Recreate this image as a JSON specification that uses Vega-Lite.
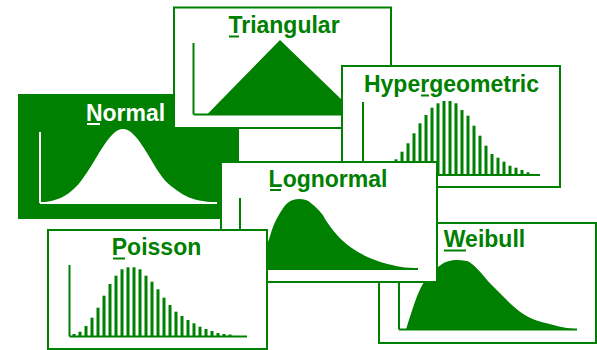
{
"$schema":"https://vega.github.io/schema/vega-lite/v6.json",
"width":597,"height":350,"padding":0,
"autosize":{"type":"fit","contains":"padding"},
"background":"white",
"config":{"view":{"stroke":null}},
"data":{"values":[
{"c":"N","k":"box","x":19,"x2":238,"y":95,"y2":218},
{"c":"N","k":"title","x":125.5,"y":120.5,"t":"Normal"},
{"c":"N","k":"line","x":40,"x2":40,"y":132,"y2":203},
{"c":"N","k":"line","x":40,"x2":217,"y":203,"y2":203},
{"c":"N","k":"line","x":87,"x2":100,"y":124,"y2":124},
{"c":"N","k":"pt","x":43,"y":202.3,"y2":203},
{"c":"N","k":"pt","x":51,"y":200.9,"y2":203},
{"c":"N","k":"pt","x":57,"y":199.3,"y2":203},
{"c":"N","k":"pt","x":63,"y":196.7,"y2":203},
{"c":"N","k":"pt","x":69,"y":193,"y2":203},
{"c":"N","k":"pt","x":75,"y":187.8,"y2":203},
{"c":"N","k":"pt","x":81,"y":180.9,"y2":203},
{"c":"N","k":"pt","x":87,"y":172.6,"y2":203},
{"c":"N","k":"pt","x":93,"y":163.1,"y2":203},
{"c":"N","k":"pt","x":99,"y":153.1,"y2":203},
{"c":"N","k":"pt","x":105,"y":143.7,"y2":203},
{"c":"N","k":"pt","x":111,"y":136,"y2":203},
{"c":"N","k":"pt","x":117,"y":130.8,"y2":203},
{"c":"N","k":"pt","x":123,"y":129,"y2":203},
{"c":"N","k":"pt","x":129,"y":130.8,"y2":203},
{"c":"N","k":"pt","x":135,"y":136,"y2":203},
{"c":"N","k":"pt","x":141,"y":143.7,"y2":203},
{"c":"N","k":"pt","x":147,"y":153.1,"y2":203},
{"c":"N","k":"pt","x":153,"y":163.1,"y2":203},
{"c":"N","k":"pt","x":159,"y":172.6,"y2":203},
{"c":"N","k":"pt","x":165,"y":180.5,"y2":203},
{"c":"N","k":"pt","x":171,"y":186,"y2":203},
{"c":"N","k":"pt","x":177,"y":190.5,"y2":203},
{"c":"N","k":"pt","x":183,"y":194.5,"y2":203},
{"c":"N","k":"pt","x":189,"y":197.5,"y2":203},
{"c":"N","k":"pt","x":195,"y":199.5,"y2":203},
{"c":"N","k":"pt","x":201,"y":200.8,"y2":203},
{"c":"N","k":"pt","x":207,"y":201.7,"y2":203},
{"c":"N","k":"pt","x":215,"y":202.3,"y2":203},

{"c":"T","k":"box","x":174,"x2":391,"y":7.5,"y2":128},
{"c":"T","k":"title","x":284,"y":33,"t":"Triangular"},
{"c":"T","k":"line","x":193.5,"x2":193.5,"y":43,"y2":114.5},
{"c":"T","k":"line","x":193.5,"x2":375,"y":114.5,"y2":114.5},
{"c":"T","k":"line","x":229,"x2":239,"y":36.5,"y2":36.5},
{"c":"T","k":"pt","x":207,"y":114.5,"y2":114.5},
{"c":"T","k":"pt","x":280,"y":40,"y2":114.5},
{"c":"T","k":"pt","x":357,"y":114.5,"y2":114.5},

{"c":"H","k":"box","x":342,"x2":560,"y":66,"y2":187},
{"c":"H","k":"title","x":451.5,"y":92,"t":"Hypergeometric"},
{"c":"H","k":"line","x":363,"x2":363,"y":102,"y2":175},
{"c":"H","k":"line","x":363,"x2":540,"y":175,"y2":175},
{"c":"H","k":"line","x":421,"x2":429,"y":95.5,"y2":95.5},
{"c":"H","k":"bar","x":378,"y":172,"y2":175},
{"c":"H","k":"bar","x":384,"y":170,"y2":175},
{"c":"H","k":"bar","x":390,"y":166,"y2":175},
{"c":"H","k":"bar","x":396,"y":159.3,"y2":175},
{"c":"H","k":"bar","x":402,"y":151.7,"y2":175},
{"c":"H","k":"bar","x":408,"y":143.3,"y2":175},
{"c":"H","k":"bar","x":414,"y":133.3,"y2":175},
{"c":"H","k":"bar","x":420,"y":123.3,"y2":175},
{"c":"H","k":"bar","x":426,"y":115,"y2":175},
{"c":"H","k":"bar","x":432,"y":107.7,"y2":175},
{"c":"H","k":"bar","x":438,"y":103.3,"y2":175},
{"c":"H","k":"bar","x":444,"y":101,"y2":175},
{"c":"H","k":"bar","x":450,"y":101,"y2":175},
{"c":"H","k":"bar","x":456,"y":103.3,"y2":175},
{"c":"H","k":"bar","x":462,"y":110,"y2":175},
{"c":"H","k":"bar","x":468,"y":115.7,"y2":175},
{"c":"H","k":"bar","x":474,"y":125.7,"y2":175},
{"c":"H","k":"bar","x":480,"y":135.7,"y2":175},
{"c":"H","k":"bar","x":486,"y":145.7,"y2":175},
{"c":"H","k":"bar","x":492,"y":154,"y2":175},
{"c":"H","k":"bar","x":498,"y":157.7,"y2":175},
{"c":"H","k":"bar","x":504,"y":161.7,"y2":175},
{"c":"H","k":"bar","x":510,"y":165.7,"y2":175},
{"c":"H","k":"bar","x":516,"y":167.7,"y2":175},
{"c":"H","k":"bar","x":522,"y":170,"y2":175},
{"c":"H","k":"bar","x":528,"y":172.3,"y2":175},

{"c":"W","k":"box","x":379,"x2":596,"y":223,"y2":343},
{"c":"W","k":"title","x":484.5,"y":247,"t":"Weibull"},
{"c":"W","k":"line","x":399,"x2":399,"y":258,"y2":329.5},
{"c":"W","k":"line","x":399,"x2":577,"y":329.5,"y2":329.5},
{"c":"W","k":"line","x":444,"x2":466,"y":250.5,"y2":250.5},
{"c":"W","k":"pt","x":406,"y":329.5,"y2":329.5},
{"c":"W","k":"pt","x":410,"y":316.7,"y2":329.5},
{"c":"W","k":"pt","x":413.3,"y":306.7,"y2":329.5},
{"c":"W","k":"pt","x":418.3,"y":293.3,"y2":329.5},
{"c":"W","k":"pt","x":423.3,"y":283.3,"y2":329.5},
{"c":"W","k":"pt","x":430,"y":275,"y2":329.5},
{"c":"W","k":"pt","x":438.3,"y":266.7,"y2":329.5},
{"c":"W","k":"pt","x":446.7,"y":261.7,"y2":329.5},
{"c":"W","k":"pt","x":456.7,"y":260,"y2":329.5},
{"c":"W","k":"pt","x":466.7,"y":261,"y2":329.5},
{"c":"W","k":"pt","x":473.3,"y":265,"y2":329.5},
{"c":"W","k":"pt","x":480,"y":271.7,"y2":329.5},
{"c":"W","k":"pt","x":490,"y":283.3,"y2":329.5},
{"c":"W","k":"pt","x":500,"y":293.3,"y2":329.5},
{"c":"W","k":"pt","x":510,"y":303.3,"y2":329.5},
{"c":"W","k":"pt","x":520,"y":311.7,"y2":329.5},
{"c":"W","k":"pt","x":533.3,"y":319.3,"y2":329.5},
{"c":"W","k":"pt","x":546.7,"y":323.3,"y2":329.5},
{"c":"W","k":"pt","x":560,"y":326.7,"y2":329.5},
{"c":"W","k":"pt","x":576.7,"y":329.3,"y2":329.5},

{"c":"L","k":"box","x":221,"x2":437,"y":162,"y2":282},
{"c":"L","k":"title","x":328,"y":186.5,"t":"Lognormal"},
{"c":"L","k":"line","x":240,"x2":240,"y":198,"y2":269},
{"c":"L","k":"line","x":240,"x2":418,"y":269,"y2":269},
{"c":"L","k":"line","x":270,"x2":281,"y":190,"y2":190},
{"c":"L","k":"pt","x":244,"y":268,"y2":269},
{"c":"L","k":"pt","x":250,"y":266,"y2":269},
{"c":"L","k":"pt","x":256,"y":261,"y2":269},
{"c":"L","k":"pt","x":262,"y":253,"y2":269},
{"c":"L","k":"pt","x":268,"y":242,"y2":269},
{"c":"L","k":"pt","x":273,"y":227,"y2":269},
{"c":"L","k":"pt","x":280,"y":213,"y2":269},
{"c":"L","k":"pt","x":287,"y":203.5,"y2":269},
{"c":"L","k":"pt","x":293,"y":200,"y2":269},
{"c":"L","k":"pt","x":299,"y":199,"y2":269},
{"c":"L","k":"pt","x":306,"y":200,"y2":269},
{"c":"L","k":"pt","x":312,"y":204,"y2":269},
{"c":"L","k":"pt","x":317,"y":208.5,"y2":269},
{"c":"L","k":"pt","x":322,"y":214,"y2":269},
{"c":"L","k":"pt","x":327,"y":222,"y2":269},
{"c":"L","k":"pt","x":332,"y":229,"y2":269},
{"c":"L","k":"pt","x":337,"y":235,"y2":269},
{"c":"L","k":"pt","x":343,"y":241,"y2":269},
{"c":"L","k":"pt","x":350,"y":246.7,"y2":269},
{"c":"L","k":"pt","x":358,"y":252,"y2":269},
{"c":"L","k":"pt","x":367,"y":256.7,"y2":269},
{"c":"L","k":"pt","x":375,"y":260,"y2":269},
{"c":"L","k":"pt","x":383,"y":262.7,"y2":269},
{"c":"L","k":"pt","x":392,"y":265,"y2":269},
{"c":"L","k":"pt","x":400,"y":266.7,"y2":269},
{"c":"L","k":"pt","x":410,"y":267.8,"y2":269},
{"c":"L","k":"pt","x":418,"y":268.5,"y2":269},

{"c":"P","k":"box","x":48,"x2":267,"y":230,"y2":349},
{"c":"P","k":"title","x":156.5,"y":255,"t":"Poisson"},
{"c":"P","k":"line","x":69.5,"x2":69.5,"y":265,"y2":336.5},
{"c":"P","k":"line","x":69.5,"x2":247,"y":336.5,"y2":336.5},
{"c":"P","k":"line","x":113,"x2":125,"y":258.5,"y2":258.5},
{"c":"P","k":"bar","x":74,"y":334,"y2":336.5},
{"c":"P","k":"bar","x":80,"y":331.7,"y2":336.5},
{"c":"P","k":"bar","x":86,"y":326,"y2":336.5},
{"c":"P","k":"bar","x":92,"y":317.7,"y2":336.5},
{"c":"P","k":"bar","x":98,"y":307.7,"y2":336.5},
{"c":"P","k":"bar","x":104,"y":295.7,"y2":336.5},
{"c":"P","k":"bar","x":110,"y":284,"y2":336.5},
{"c":"P","k":"bar","x":116,"y":275.7,"y2":336.5},
{"c":"P","k":"bar","x":122,"y":269.3,"y2":336.5},
{"c":"P","k":"bar","x":128,"y":267.3,"y2":336.5},
{"c":"P","k":"bar","x":134,"y":267.3,"y2":336.5},
{"c":"P","k":"bar","x":140,"y":269.3,"y2":336.5},
{"c":"P","k":"bar","x":146,"y":275.7,"y2":336.5},
{"c":"P","k":"bar","x":152,"y":281.7,"y2":336.5},
{"c":"P","k":"bar","x":158,"y":289.3,"y2":336.5},
{"c":"P","k":"bar","x":164,"y":297.7,"y2":336.5},
{"c":"P","k":"bar","x":170,"y":305,"y2":336.5},
{"c":"P","k":"bar","x":176,"y":311.7,"y2":336.5},
{"c":"P","k":"bar","x":182,"y":316,"y2":336.5},
{"c":"P","k":"bar","x":188,"y":320,"y2":336.5},
{"c":"P","k":"bar","x":194,"y":323.3,"y2":336.5},
{"c":"P","k":"bar","x":200,"y":326.7,"y2":336.5},
{"c":"P","k":"bar","x":206,"y":329,"y2":336.5},
{"c":"P","k":"bar","x":212,"y":331,"y2":336.5},
{"c":"P","k":"bar","x":218,"y":333,"y2":336.5},
{"c":"P","k":"bar","x":224,"y":334,"y2":336.5},
{"c":"P","k":"bar","x":230,"y":334.5,"y2":336.5}
]},
"encoding":{
"x":{"field":"x","type":"quantitative","scale":{"domain":[0,597],"nice":false,"zero":false},"axis":null},
"y":{"field":"y","type":"quantitative","scale":{"domain":[0,350],"reverse":true,"nice":false,"zero":false},"axis":null}
},
"layer":[
{"transform":[{"filter":"datum.c==='N'"}],"layer":[
 {"transform":[{"filter":"datum.k==='box'"}],"mark":{"type":"rect","fill":"#008000","stroke":"#008000","strokeWidth":2},"encoding":{"x2":{"field":"x2"},"y2":{"field":"y2"}}},
 {"transform":[{"filter":"datum.k==='pt'"}],"mark":{"type":"area","color":"white","interpolate":"monotone"},"encoding":{"y2":{"field":"y2"}}},
 {"transform":[{"filter":"datum.k==='line'"}],"mark":{"type":"rule","color":"white","strokeWidth":2},"encoding":{"x2":{"field":"x2"},"y2":{"field":"y2"}}},
 {"transform":[{"filter":"datum.k==='title'"}],"mark":{"type":"text","color":"white","font":"Liberation Sans","fontWeight":"bold","fontSize":23,"align":"center","baseline":"alphabetic"},"encoding":{"text":{"field":"t"}}}
]},
{"transform":[{"filter":"datum.c==='T'"}],"layer":[
 {"transform":[{"filter":"datum.k==='box'"}],"mark":{"type":"rect","fill":"white","stroke":"#008000","strokeWidth":2},"encoding":{"x2":{"field":"x2"},"y2":{"field":"y2"}}},
 {"transform":[{"filter":"datum.k==='pt'"}],"mark":{"type":"area","color":"#008000","interpolate":"linear"},"encoding":{"y2":{"field":"y2"}}},
 {"transform":[{"filter":"datum.k==='line'"}],"mark":{"type":"rule","color":"#008000","strokeWidth":2},"encoding":{"x2":{"field":"x2"},"y2":{"field":"y2"}}},
 {"transform":[{"filter":"datum.k==='title'"}],"mark":{"type":"text","color":"#008000","font":"Liberation Sans","fontWeight":"bold","fontSize":23,"align":"center","baseline":"alphabetic"},"encoding":{"text":{"field":"t"}}}
]},
{"transform":[{"filter":"datum.c==='H'"}],"layer":[
 {"transform":[{"filter":"datum.k==='box'"}],"mark":{"type":"rect","fill":"white","stroke":"#008000","strokeWidth":2},"encoding":{"x2":{"field":"x2"},"y2":{"field":"y2"}}},
 {"transform":[{"filter":"datum.k==='bar'"}],"mark":{"type":"rule","color":"#008000","strokeWidth":3},"encoding":{"y2":{"field":"y2"}}},
 {"transform":[{"filter":"datum.k==='line'"}],"mark":{"type":"rule","color":"#008000","strokeWidth":2},"encoding":{"x2":{"field":"x2"},"y2":{"field":"y2"}}},
 {"transform":[{"filter":"datum.k==='title'"}],"mark":{"type":"text","color":"#008000","font":"Liberation Sans","fontWeight":"bold","fontSize":23,"align":"center","baseline":"alphabetic"},"encoding":{"text":{"field":"t"}}}
]},
{"transform":[{"filter":"datum.c==='W'"}],"layer":[
 {"transform":[{"filter":"datum.k==='box'"}],"mark":{"type":"rect","fill":"white","stroke":"#008000","strokeWidth":2},"encoding":{"x2":{"field":"x2"},"y2":{"field":"y2"}}},
 {"transform":[{"filter":"datum.k==='pt'"}],"mark":{"type":"area","color":"#008000","interpolate":"monotone"},"encoding":{"y2":{"field":"y2"}}},
 {"transform":[{"filter":"datum.k==='line'"}],"mark":{"type":"rule","color":"#008000","strokeWidth":2},"encoding":{"x2":{"field":"x2"},"y2":{"field":"y2"}}},
 {"transform":[{"filter":"datum.k==='title'"}],"mark":{"type":"text","color":"#008000","font":"Liberation Sans","fontWeight":"bold","fontSize":23,"align":"center","baseline":"alphabetic"},"encoding":{"text":{"field":"t"}}}
]},
{"transform":[{"filter":"datum.c==='L'"}],"layer":[
 {"transform":[{"filter":"datum.k==='box'"}],"mark":{"type":"rect","fill":"white","stroke":"#008000","strokeWidth":2},"encoding":{"x2":{"field":"x2"},"y2":{"field":"y2"}}},
 {"transform":[{"filter":"datum.k==='pt'"}],"mark":{"type":"area","color":"#008000","interpolate":"monotone"},"encoding":{"y2":{"field":"y2"}}},
 {"transform":[{"filter":"datum.k==='line'"}],"mark":{"type":"rule","color":"#008000","strokeWidth":2},"encoding":{"x2":{"field":"x2"},"y2":{"field":"y2"}}},
 {"transform":[{"filter":"datum.k==='title'"}],"mark":{"type":"text","color":"#008000","font":"Liberation Sans","fontWeight":"bold","fontSize":23,"align":"center","baseline":"alphabetic"},"encoding":{"text":{"field":"t"}}}
]},
{"transform":[{"filter":"datum.c==='P'"}],"layer":[
 {"transform":[{"filter":"datum.k==='box'"}],"mark":{"type":"rect","fill":"white","stroke":"#008000","strokeWidth":2},"encoding":{"x2":{"field":"x2"},"y2":{"field":"y2"}}},
 {"transform":[{"filter":"datum.k==='bar'"}],"mark":{"type":"rule","color":"#008000","strokeWidth":3},"encoding":{"y2":{"field":"y2"}}},
 {"transform":[{"filter":"datum.k==='line'"}],"mark":{"type":"rule","color":"#008000","strokeWidth":2},"encoding":{"x2":{"field":"x2"},"y2":{"field":"y2"}}},
 {"transform":[{"filter":"datum.k==='title'"}],"mark":{"type":"text","color":"#008000","font":"Liberation Sans","fontWeight":"bold","fontSize":23,"align":"center","baseline":"alphabetic"},"encoding":{"text":{"field":"t"}}}
]}
]
}
